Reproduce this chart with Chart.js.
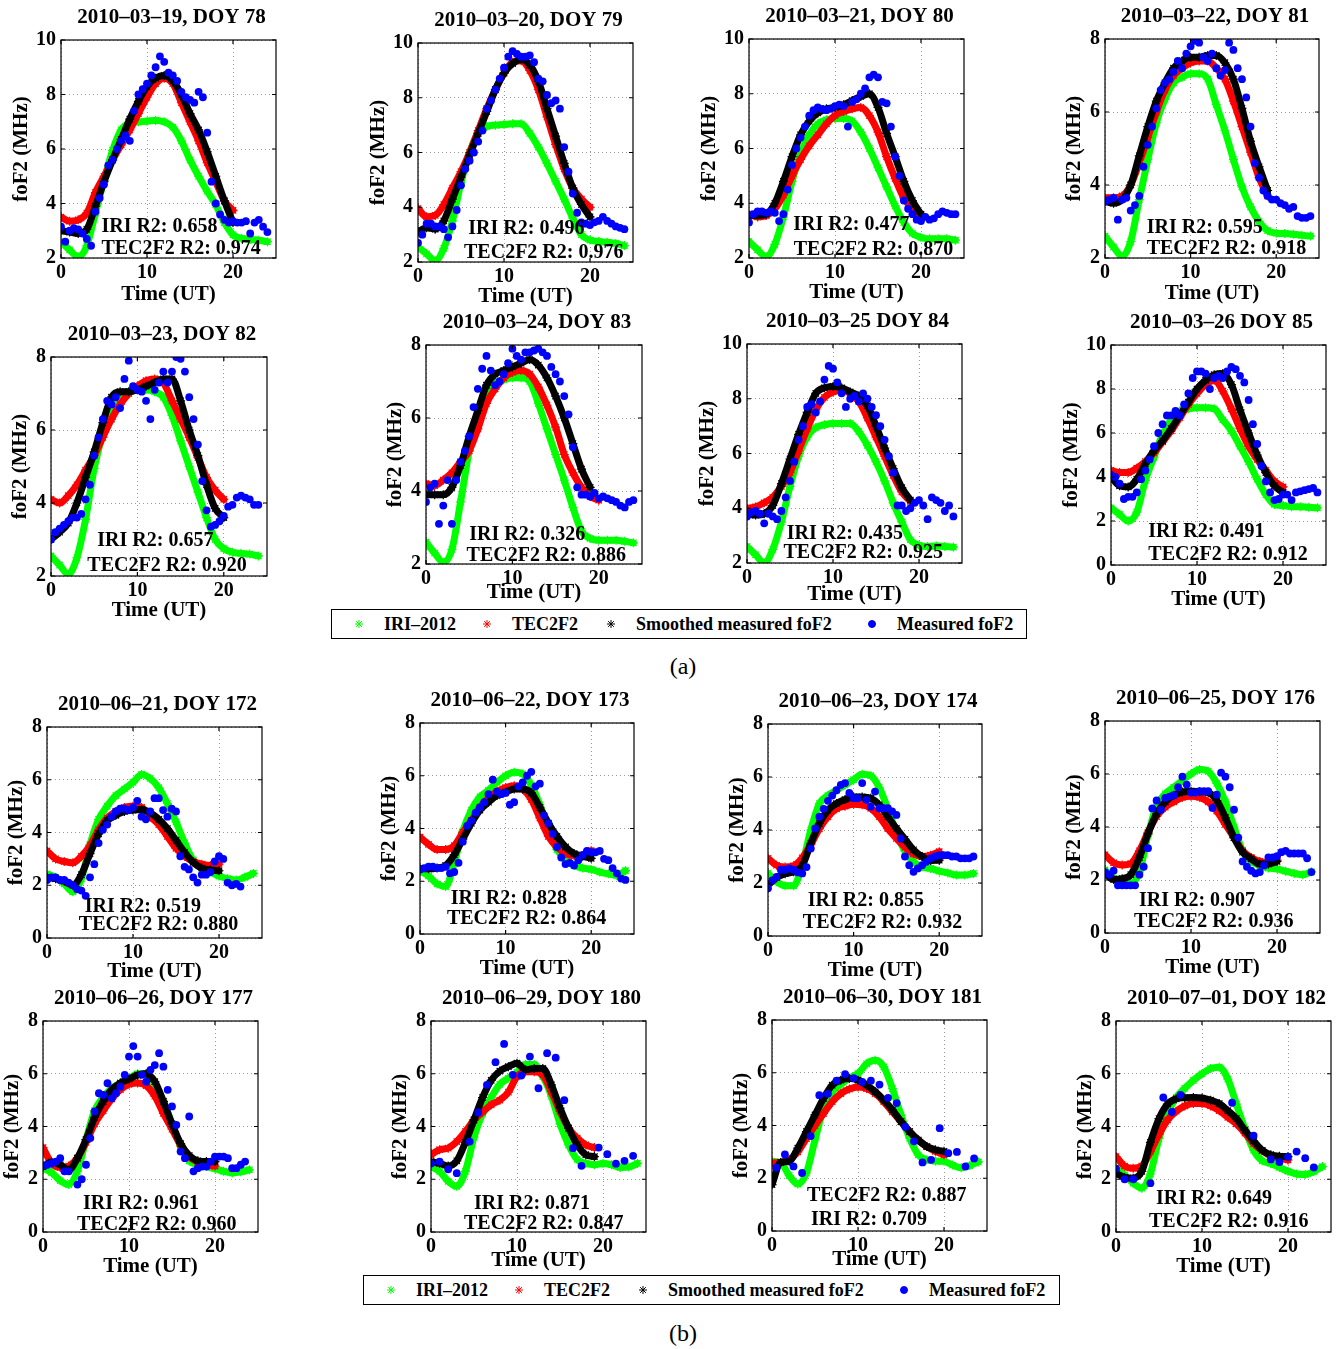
<!DOCTYPE html>
<html lang="en">
<head>
<meta charset="UTF-8">
<title>foF2: IRI-2012, TEC2F2 and measured</title>
<script src="https://cdn.jsdelivr.net/npm/chart.js"></script>
<style>
  html, body { margin: 0; padding: 0; background: #fff; overflow: hidden; }
  #page { position: relative; width: 1338px; height: 1349px; overflow: hidden;
          font-family: "Liberation Serif", "Times New Roman", serif; }
  #page canvas.panel { position: absolute; }
  .legend { position: absolute; height: 30px; border: 1px solid #000; box-sizing: border-box; background: #fff; }
  .legend .mk { position: absolute; top: 8px; }
  .legend .lbl { position: absolute; top: 50%; transform: translateY(-50%); font-weight: bold;
                 font-size: 18px; line-height: 1; white-space: nowrap; }
  .caption { position: absolute; font-size: 24px; transform: translate(-50%, -50%); }
</style>
</head>
<body>
<div id="page"></div>

<script>
// ---- axis grids ----
const HOURS = [0,1,2,3,4,5,6,7,8,9,10,11,12,13,14,15,16,17,18,19,20,21,22,23,24];
const HALF_HOURS = [0,0.5,1,1.5,2,2.5,3,3.5,4,4.5,5,5.5,6,6.5,7,7.5,8,8.5,9,9.5,10,10.5,11,11.5,12,
                    12.5,13,13.5,14,14.5,15,15.5,16,16.5,17,17.5,18,18.5,19,19.5,20,20.5,21,21.5,22,22.5,23,23.5,24];
const X_TICKS = [0, 10, 20];
const Y_TICKS_2_10 = [2, 4, 6, 8, 10];
const Y_TICKS_2_8 = [2, 4, 6, 8];
const Y_TICKS_0_10 = [0, 2, 4, 6, 8, 10];
const Y_TICKS_0_8 = [0, 2, 4, 6, 8];

const SERIES_LABELS = ['IRI–2012', 'TEC2F2', 'Smoothed measured foF2', 'Measured foF2'];
const SERIES_COLORS = ['#00ff00', '#ff0000', '#000000', '#0000ff'];
const SERIES_MARKERS = ['star', 'star', 'star', 'circle'];

// ---- March 2010 (foF2, MHz) ----
const IRI_078 = [2.6,2.3,2.05,2.45,3.65,4.85,5.95,6.7,6.95,7.0,7.02,7.05,7.0,6.8,6.3,5.6,5.0,4.45,3.95,3.3,2.85,2.72,2.68,2.65,2.6];
const TEC_078 = [3.5,3.35,3.4,3.65,4.4,5.0,5.6,6.15,6.7,7.3,7.9,8.4,8.6,8.4,7.7,7.0,6.3,5.5,4.8,4.1,3.75];
const SMOOTH_078 = [3.0,2.95,2.9,3.05,3.9,4.8,5.6,6.35,7.1,7.75,8.3,8.6,8.7,8.5,8.0,7.3,6.7,5.9,5.0,4.1,3.3];
const MEAS_078 = [3.15,2.6,3.0,3.1,3.05,2.9,2.7,2.45,3.7,4.2,4.7,5.4,5.6,6.0,6.3,6.5,6.3,7.4,8.0,8.2,8.4,8.7,9.0,9.4,9.2,
                  8.8,8.7,8.5,8.1,7.9,7.8,7.7,8.1,7.9,6.6,4.8,4.0,3.6,3.4,3.3,3.35,3.3,3.3,3.35,2.9,3.3,3.4,3.15,2.95];

const IRI_079 = [2.55,2.3,2.05,2.5,3.5,4.9,6.0,6.7,6.95,7.0,7.02,7.05,7.05,6.7,6.2,5.6,4.95,4.3,3.6,3.0,2.8,2.75,2.72,2.68,2.6];
const TEC_079 = [3.95,3.65,3.7,4.1,4.7,5.3,6.0,6.8,7.6,8.3,8.9,9.3,9.35,9.0,8.3,7.3,6.3,5.4,4.7,4.3,4.0];
const SMOOTH_079 = [3.1,3.25,3.2,3.5,4.3,5.1,5.9,6.7,7.5,8.3,8.9,9.25,9.4,9.2,8.6,7.6,6.6,5.6,4.7,4.1,3.65];
const MEAS_079 = [2.7,3.0,3.4,3.4,3.3,3.3,3.2,2.9,3.3,3.9,4.8,5.4,5.7,6.0,6.4,6.8,7.6,7.9,8.3,8.7,9.1,9.5,9.7,9.6,9.5,
                  9.5,9.55,9.3,8.7,8.6,8.1,7.8,7.9,7.6,6.2,5.3,4.5,3.8,3.45,3.4,3.35,3.45,3.5,3.65,3.5,3.4,3.3,3.25,3.2];

const IRI_080 = [2.6,2.3,2.05,2.5,3.5,4.8,5.8,6.5,6.9,7.05,7.1,7.1,7.0,6.6,6.0,5.3,4.6,3.9,3.3,2.9,2.75,2.7,2.7,2.7,2.65];
const TEC_080 = [3.6,3.5,3.55,3.8,4.3,5.0,5.6,6.1,6.5,6.9,7.2,7.35,7.45,7.5,7.2,6.6,5.7,4.9,4.2,3.8,3.55];
const SMOOTH_080 = [3.55,3.55,3.6,4.0,4.8,5.7,6.5,7.0,7.3,7.45,7.5,7.6,7.75,7.9,8.0,7.5,6.55,5.7,4.8,4.1,3.6];
const MEAS_080 = [3.3,3.6,3.7,3.7,3.65,3.7,3.65,3.35,3.6,4.5,5.4,6.0,6.4,6.8,7.2,7.4,7.5,7.45,7.4,7.45,7.55,7.6,7.55,6.8,7.7,
                  7.8,8.0,8.2,8.6,8.7,8.6,7.7,7.65,6.8,5.7,5.0,4.1,3.8,3.6,3.4,3.35,3.5,3.4,3.45,3.6,3.7,3.65,3.6,3.6];

const IRI_081 = [2.6,2.3,2.05,2.45,3.6,4.7,5.7,6.35,6.8,6.95,7.05,7.05,6.9,6.2,5.5,4.7,3.95,3.4,3.0,2.75,2.68,2.67,2.65,2.62,2.6];
const TEC_081 = [3.65,3.65,3.7,4.0,4.6,5.3,6.0,6.6,7.0,7.2,7.35,7.4,7.4,7.2,6.9,6.3,5.6,4.9,4.2,3.7];
const SMOOTH_081 = [3.55,3.5,3.6,4.0,4.8,5.6,6.3,6.8,7.2,7.4,7.5,7.5,7.55,7.55,7.35,6.9,6.1,5.2,4.5,3.85];
const MEAS_081 = [3.55,3.6,3.65,3.05,3.6,3.65,3.3,3.45,3.7,4.5,5.1,5.6,6.1,6.6,6.8,6.9,7.1,7.4,7.2,7.6,7.8,7.95,7.9,7.5,7.4,
                  7.6,7.2,7.0,7.15,7.9,7.7,7.2,6.9,6.4,5.6,4.6,4.2,3.85,3.7,3.6,3.6,3.5,3.45,3.35,3.4,3.15,3.1,3.1,3.15];

const IRI_082 = [2.55,2.3,2.05,2.5,3.55,4.95,5.9,6.65,7.0,7.05,7.1,7.1,7.05,6.9,6.4,5.7,5.0,4.3,3.6,3.0,2.75,2.65,2.62,2.6,2.55];
const TEC_082 = [4.1,4.0,4.2,4.5,4.9,5.3,5.8,6.3,6.7,7.0,7.2,7.35,7.4,7.3,6.8,6.3,5.8,5.25,4.7,4.35,4.1];
const SMOOTH_082 = [3.0,3.2,3.45,4.0,4.7,5.4,6.2,6.9,7.05,7.05,7.1,7.2,7.3,7.4,7.4,6.8,6.0,5.3,4.5,3.85,3.6];
const MEAS_082 = [3.0,3.2,3.3,3.4,3.5,3.6,3.6,3.7,4.1,4.5,5.3,5.8,6.3,6.8,6.7,6.9,6.6,7.4,7.9,7.2,7.1,7.05,6.8,6.3,7.1,
                  7.3,7.6,7.3,7.6,8.0,7.95,7.6,6.9,6.3,5.6,4.6,3.8,3.35,3.4,3.5,3.65,3.9,3.95,4.15,4.2,4.15,4.1,3.95,3.95];

const IRI_083 = [2.6,2.3,2.05,2.4,3.7,5.1,6.1,6.7,6.95,7.05,7.1,7.1,7.0,6.4,5.7,5.0,4.3,3.55,2.9,2.7,2.65,2.65,2.65,2.62,2.58];
const TEC_083 = [4.2,4.15,4.3,4.5,4.8,5.1,5.7,6.4,6.8,7.1,7.25,7.3,7.2,6.85,6.35,5.75,5.0,4.5,4.1,3.85,3.75];
const SMOOTH_083 = [3.9,3.9,3.9,4.1,4.7,5.5,6.2,6.9,7.2,7.3,7.4,7.5,7.6,7.45,7.1,6.6,6.0,5.3,4.6,4.1];
const MEAS_083 = [3.7,4.1,4.2,3.1,3.6,4.3,3.1,4.3,4.8,5.1,5.5,6.3,6.8,7.35,7.7,7.3,6.9,7.0,7.2,7.5,7.9,7.7,7.6,7.8,7.8,
                  7.85,7.9,7.8,7.7,7.4,7.2,7.0,6.6,6.1,5.2,4.1,3.9,3.9,3.85,3.95,3.8,3.85,3.8,3.75,3.7,3.6,3.55,3.7,3.75];

const IRI_084 = [2.6,2.3,2.0,2.5,3.5,4.8,5.9,6.6,6.95,7.05,7.1,7.1,7.1,6.8,6.3,5.7,5.0,4.2,3.5,2.85,2.65,2.6,2.62,2.6,2.58];
const TEC_084 = [4.0,4.05,4.2,4.4,4.8,5.3,6.1,6.9,7.6,8.05,8.25,8.3,8.2,7.9,7.3,6.6,5.9,5.2,4.6,4.25];
const SMOOTH_084 = [3.8,3.75,3.8,4.1,4.9,5.8,6.7,7.5,8.2,8.4,8.45,8.4,8.25,8.1,7.75,7.0,6.2,5.45,4.75,4.3];
const MEAS_084 = [3.7,3.85,3.9,3.8,3.45,3.8,3.7,3.6,3.9,4.4,5.0,5.7,6.5,7.0,7.7,7.8,7.5,7.9,8.7,9.2,9.1,8.6,8.2,7.7,8.0,
                  8.1,7.9,8.2,8.0,7.7,7.4,7.0,6.5,5.9,5.3,4.1,4.1,3.9,4.0,4.2,4.3,4.1,3.6,4.4,4.3,4.2,3.9,4.1,3.7];

const IRI_085 = [2.6,2.3,2.0,2.4,3.85,4.9,5.95,6.6,7.0,7.1,7.15,7.15,7.1,6.6,6.1,5.4,4.7,3.9,3.2,2.75,2.7,2.65,2.65,2.62,2.6];
const TEC_085 = [4.3,4.2,4.2,4.4,4.7,5.1,5.6,6.1,6.7,7.3,7.8,8.2,8.4,7.9,7.1,6.2,5.4,4.8,4.3,3.8,3.55];
const SMOOTH_085 = [4.0,3.6,3.55,3.9,4.6,5.2,5.65,6.2,6.8,7.4,8.0,8.4,8.65,8.7,8.2,7.05,6.0,5.0,4.2,3.6,3.3];
const MEAS_085 = [4.1,4.0,3.7,3.0,3.1,3.1,3.3,3.9,4.3,4.8,5.4,6.0,6.4,6.8,6.8,7.0,6.8,7.3,7.8,8.5,8.8,8.8,8.7,8.0,8.5,
                  8.6,8.5,8.8,9.0,8.9,8.6,8.3,7.5,6.4,5.5,4.5,3.8,3.3,2.95,3.0,3.2,3.2,2.95,3.3,3.35,3.4,3.45,3.5,3.3];

// ---- June / July 2010 ----
const IRI_172 = [2.43,2.3,2.05,1.75,2.25,3.55,4.5,5.0,5.4,5.65,5.9,6.2,6.05,5.7,5.1,4.4,3.6,2.95,2.65,2.5,2.35,2.25,2.2,2.3,2.45];
const TEC_172 = [3.3,3.0,2.9,2.85,3.1,3.5,4.1,4.55,4.8,4.95,5.0,4.95,4.6,4.3,3.85,3.4,3.1,2.9,2.8,2.75,2.8];
const SMOOTH_172 = [2.3,2.25,2.15,2.0,2.4,3.2,3.95,4.45,4.65,4.8,4.85,4.87,4.75,4.5,4.15,3.7,3.25,2.87,2.65,2.58,2.55];
const MEAS_172 = [2.2,2.3,2.3,2.2,2.2,2.1,2.0,1.85,1.8,1.6,2.3,2.8,3.6,4.1,4.3,4.6,4.8,4.9,4.9,4.85,4.95,5.2,4.6,4.5,4.8,
                  5.3,5.3,4.85,4.6,4.9,4.8,3.1,2.7,2.6,2.3,2.1,2.4,2.4,2.5,2.9,3.1,3.0,2.1,2.0,2.05,1.95,null,null,null];

const IRI_173 = [2.4,2.2,1.9,1.8,2.7,3.9,4.7,5.2,5.45,5.75,6.0,6.13,6.07,5.65,4.9,4.0,3.2,2.85,2.6,2.5,2.45,2.35,2.28,2.22,2.4];
const TEC_173 = [3.67,3.4,3.2,3.2,3.35,3.85,4.3,4.8,5.15,5.4,5.55,5.62,5.5,5.1,4.4,3.7,3.3,3.05,2.98,2.98,3.16];
const SMOOTH_173 = [2.47,2.47,2.5,2.6,3.0,3.6,4.2,4.7,5.0,5.25,5.38,5.5,5.5,5.35,4.8,4.2,3.7,3.3,3.05,2.95,2.87];
const MEAS_173 = [2.45,2.5,2.55,2.55,2.5,2.5,2.55,2.3,2.35,2.7,3.5,4.1,4.3,4.6,4.8,5.0,5.3,5.85,5.4,5.3,5.35,4.9,5.0,5.6,5.75,
                  6.0,6.15,5.6,5.7,4.5,4.2,3.8,3.3,2.9,2.65,2.7,2.6,2.8,3.0,3.15,3.1,3.1,3.15,2.85,2.8,2.5,2.3,2.1,2.05];

const IRI_174 = [2.36,2.05,1.9,1.9,2.7,4.0,5.0,5.3,5.5,5.7,5.9,6.1,6.05,5.6,4.8,3.9,3.2,2.8,2.6,2.55,2.45,2.38,2.3,2.3,2.36];
const TEC_174 = [2.93,2.67,2.6,2.65,2.95,3.45,4.05,4.5,4.8,4.9,4.97,4.95,4.82,4.5,4.05,3.68,3.35,3.1,3.0,3.05,3.18];
const SMOOTH_174 = [1.92,2.2,2.35,2.42,2.65,3.5,4.25,4.75,5.0,5.15,5.25,5.25,5.2,4.95,4.5,4.06,3.65,3.25,3.0,2.85,2.86];
const MEAS_174 = [1.8,2.1,2.23,2.5,2.5,2.55,2.5,2.4,2.36,2.6,3.3,4.06,4.5,4.8,5.1,5.3,5.5,5.7,5.77,5.4,5.2,5.2,5.77,5.14,4.88,
                  5.45,4.82,4.82,4.82,4.7,4.57,3.68,3.0,2.67,2.42,2.55,2.67,2.8,2.93,3.0,3.05,3.05,3.05,3.0,3.0,2.93,2.93,2.93,3.0];

const IRI_176 = [2.38,2.06,1.9,1.87,2.3,3.7,4.8,5.25,5.5,5.75,6.0,6.17,6.1,5.65,4.95,4.0,3.1,2.7,2.55,2.45,2.42,2.33,2.25,2.2,2.31];
const TEC_176 = [2.95,2.65,2.57,2.62,3.1,3.8,4.4,4.75,4.95,5.12,5.16,5.12,4.95,4.6,4.1,3.6,3.1,2.85,2.7,2.65,2.75];
const SMOOTH_176 = [2.25,2.02,2.05,2.2,2.85,3.75,4.5,4.95,5.2,5.32,5.35,5.33,5.3,5.0,4.35,3.6,3.05,2.8,2.6,2.6,2.7];
const MEAS_176 = [2.3,2.2,2.35,1.8,1.8,1.8,1.8,1.8,2.2,2.5,3.2,4.7,5.0,4.65,5.1,5.15,5.2,5.5,5.9,5.6,5.3,5.3,5.35,5.35,5.35,
                  4.72,5.22,6.05,5.9,5.5,4.65,3.6,2.7,2.5,2.35,2.25,2.3,2.55,2.85,2.85,2.9,3.05,3.1,3.0,3.0,3.0,3.0,2.82,2.3];

const IRI_177 = [2.42,2.25,1.95,1.8,2.3,3.5,4.6,5.1,5.45,5.65,5.8,6.0,6.0,5.6,4.95,4.1,3.25,2.7,2.55,2.48,2.4,2.3,2.24,2.28,2.36];
const TEC_177 = [3.2,2.6,2.45,2.5,2.8,3.4,4.1,4.6,5.05,5.4,5.6,5.65,5.55,5.15,4.5,3.9,3.3,2.85,2.65,2.55,2.5];
const SMOOTH_177 = [2.48,2.65,2.55,2.35,2.8,3.5,4.35,4.95,5.4,5.65,5.8,5.95,6.0,5.7,4.95,4.1,3.35,2.9,2.7,2.67,2.67];
const MEAS_177 = [2.5,2.55,2.6,2.67,2.8,2.3,2.3,null,1.8,2.0,2.55,3.56,4.57,5.26,5.2,5.64,5.07,5.26,5.51,5.96,6.65,7.05,6.65,5.96,5.7,
                  6.15,6.33,6.78,6.27,5.39,4.76,4.06,3.05,2.8,4.38,2.3,2.42,2.48,2.48,2.67,2.86,2.86,2.86,2.8,2.42,2.42,2.55,2.67,null];

const IRI_180 = [2.48,2.3,1.92,1.73,2.3,3.6,4.5,5.1,5.6,5.83,6.05,6.35,6.35,5.9,5.15,4.1,3.3,2.75,2.6,2.55,2.6,2.55,2.45,2.46,2.6];
const TEC_180 = [2.93,3.12,3.18,3.43,3.81,4.25,4.55,4.82,5.0,5.3,5.9,6.08,6.08,5.96,5.32,4.57,3.94,3.56,3.3,3.2];
const SMOOTH_180 = [2.67,2.6,2.5,2.7,3.4,4.25,5.1,5.75,6.1,6.27,6.4,6.15,6.2,6.2,5.58,4.7,3.94,3.3,2.93,2.86];
const MEAS_180 = [2.6,null,2.67,null,2.38,null,2.23,null,null,3.43,null,4.53,null,5.58,null,6.44,null,7.13,null,5.96,null,5.93,null,6.65,null,
                  5.45,null,6.78,null,6.61,null,5.0,null,3.18,null,2.51,null,null,null,3.2,null,2.95,null,2.59,null,2.7,null,2.89,null];

const IRI_181 = [2.64,2.6,2.1,1.78,2.2,3.45,4.65,5.28,5.55,5.8,5.97,6.34,6.47,6.22,5.4,4.4,3.52,2.89,2.7,2.65,2.64,2.5,2.4,2.48,2.62];
const TEC_181 = [2.58,2.6,2.7,3.0,3.5,4.0,4.46,4.9,5.21,5.38,5.46,5.4,5.21,4.9,4.52,4.15,3.77,3.45,3.2,3.02,2.89];
const SMOOTH_181 = [1.76,2.6,2.64,3.14,3.77,4.4,5.03,5.53,5.72,5.78,5.72,5.53,5.28,4.96,4.59,4.15,3.77,3.45,3.2,3.08,3.02];
const MEAS_181 = [null,2.4,null,2.9,null,2.45,null,2.2,null,3.6,null,5.15,null,5.2,null,5.7,null,5.95,null,5.8,null,5.65,null,5.7,null,
                  5.55,null,5.05,null,4.85,null,3.95,null,3.4,null,2.6,null,2.7,null,3.9,null,2.95,null,3.0,null,2.45,null,2.75,null];

const IRI_182 = [2.42,2.17,1.85,1.66,2.2,3.55,4.5,5.1,5.45,5.75,6.0,6.2,6.25,5.8,4.85,3.9,3.1,2.7,2.6,2.45,2.3,2.2,2.18,2.29,2.48];
const TEC_182 = [2.86,2.5,2.42,2.5,3.05,3.7,4.25,4.58,4.78,4.87,4.87,4.78,4.6,4.35,4.1,3.75,3.35,3.08,2.88,2.8,2.73];
const SMOOTH_182 = [2.23,2.07,2.04,2.3,3.4,4.3,4.85,5.05,5.09,5.1,5.08,5.0,4.87,4.6,4.3,3.85,3.45,3.1,2.93,2.87,2.86];
const MEAS_182 = [2.4,null,2.0,null,2.0,null,null,null,1.85,null,null,5.1,null,4.55,null,5.2,null,null,null,null,null,null,null,null,null,
                  null,null,4.9,null,null,null,null,3.65,null,null,null,2.75,null,2.65,null,2.85,null,3.05,null,2.8,null,2.45,null,null];

// R2 scores printed in each panel, and where (time, foF2) the two lines start
const IRI_R2 = ['0.658','0.496','0.477','0.595','0.657','0.326','0.435','0.491',
                '0.519','0.828','0.855','0.907','0.961','0.871','0.709','0.649'];
const TEC_R2 = ['0.974','0.976','0.870','0.918','0.920','0.886','0.925','0.912',
                '0.880','0.864','0.932','0.936','0.960','0.847','0.887','0.916'];
const IRI_NOTE_AT = [[4.7,3.15],[5.85,3.2],[5.15,3.2],[4.87,2.84],[5.36,2.96],[5.0,2.81],[4.63,3.08],[4.34,1.51],
                     [4.4,1.19],[3.6,1.33],[4.65,1.33],[3.95,1.21],[4.65,1.06],[5.0,1.06],[4.53,0.42],[4.65,1.25]];
const TEC_NOTE_AT = [[4.7,2.33],[5.35,2.35],[5.2,2.29],[4.87,2.25],[4.2,2.28],[4.7,2.22],[4.24,2.38],[4.34,0.45],
                     [3.7,0.49],[3.14,0.57],[4.07,0.49],[3.37,0.42],[3.95,0.27],[3.84,0.3],[4.07,1.33],[3.84,0.38]];

// ---- page layout: plot box [left, top, width, height] in page pixels ----
const PANELS = [
  { title: '2010–03–19, DOY 78',  box: [61, 40, 215, 218],    yTicks: Y_TICKS_2_10, xGap: 37, iri: IRI_078, tec: TEC_078, smooth: SMOOTH_078, meas: MEAS_078 },
  { title: '2010–03–20, DOY 79',  box: [418, 43, 215, 219],   yTicks: Y_TICKS_2_10, xGap: 35, iri: IRI_079, tec: TEC_079, smooth: SMOOTH_079, meas: MEAS_079 },
  { title: '2010–03–21, DOY 80',  box: [749, 39, 215, 219],   yTicks: Y_TICKS_2_10, xGap: 35, iri: IRI_080, tec: TEC_080, smooth: SMOOTH_080, meas: MEAS_080 },
  { title: '2010–03–22, DOY 81',  box: [1105, 39, 214, 219],  yTicks: Y_TICKS_2_8,  xGap: 36, iri: IRI_081, tec: TEC_081, smooth: SMOOTH_081, meas: MEAS_081 },
  { title: '2010–03–23, DOY 82',  box: [51, 357, 216, 219],   yTicks: Y_TICKS_2_8,  xGap: 35, iri: IRI_082, tec: TEC_082, smooth: SMOOTH_082, meas: MEAS_082 },
  { title: '2010–03–24, DOY 83',  box: [426, 345, 216, 219],  yTicks: Y_TICKS_2_8,  xGap: 29, iri: IRI_083, tec: TEC_083, smooth: SMOOTH_083, meas: MEAS_083 },
  { title: '2010–03–25 DOY 84',   box: [747, 344, 215, 219],  yTicks: Y_TICKS_2_10, xGap: 32, iri: IRI_084, tec: TEC_084, smooth: SMOOTH_084, meas: MEAS_084 },
  { title: '2010–03–26 DOY 85',   box: [1111, 345, 215, 220], yTicks: Y_TICKS_0_10, xGap: 35, iri: IRI_085, tec: TEC_085, smooth: SMOOTH_085, meas: MEAS_085 },
  { title: '2010–06–21, DOY 172', box: [47, 727, 215, 211],   yTicks: Y_TICKS_0_8,  xGap: 34, iri: IRI_172, tec: TEC_172, smooth: SMOOTH_172, meas: MEAS_172 },
  { title: '2010–06–22, DOY 173', box: [420, 723, 214, 211],  yTicks: Y_TICKS_0_8,  xGap: 35, iri: IRI_173, tec: TEC_173, smooth: SMOOTH_173, meas: MEAS_173 },
  { title: '2010–06–23, DOY 174', box: [768, 724, 214, 212],  yTicks: Y_TICKS_0_8,  xGap: 35, iri: IRI_174, tec: TEC_174, smooth: SMOOTH_174, meas: MEAS_174 },
  { title: '2010–06–25, DOY 176', box: [1105, 721, 215, 212], yTicks: Y_TICKS_0_8,  xGap: 35, iri: IRI_176, tec: TEC_176, smooth: SMOOTH_176, meas: MEAS_176 },
  { title: '2010–06–26, DOY 177', box: [43, 1021, 215, 211],  yTicks: Y_TICKS_0_8,  xGap: 35, iri: IRI_177, tec: TEC_177, smooth: SMOOTH_177, meas: MEAS_177 },
  { title: '2010–06–29, DOY 180', box: [431, 1021, 215, 211], yTicks: Y_TICKS_0_8,  xGap: 29, iri: IRI_180, tec: TEC_180, smooth: SMOOTH_180, meas: MEAS_180 },
  { title: '2010–06–30, DOY 181', box: [772, 1020, 215, 211], yTicks: Y_TICKS_0_8,  xGap: 29, iri: IRI_181, tec: TEC_181, smooth: SMOOTH_181, meas: MEAS_181, tecFirst: true },
  { title: '2010–07–01, DOY 182', box: [1116, 1021, 215, 211], yTicks: Y_TICKS_0_8, xGap: 35, iri: IRI_182, tec: TEC_182, smooth: SMOOTH_182, meas: MEAS_182 }
];

const MARGIN_L = 60, MARGIN_T = 40, MARGIN_R = 8, MARGIN_B = 55;
const SERIF = '"Liberation Serif", "Times New Roman", serif';
const INK = '#000';
const boldFont = size => ({ family: SERIF, size, weight: 'bold' });

Chart.defaults.font.family = SERIF;

function pairs(xs, ys) {
  const out = [];
  ys.forEach((v, i) => { if (v !== null) out.push({ x: xs[i], y: v }); });
  return out;
}

// full box with inward ticks on all four sides, like a MATLAB axes
const framePlugin = {
  id: 'frame',
  afterDraw(chart) {
    const { ctx, chartArea: a } = chart;
    const x = chart.scales.x, y = chart.scales.y;
    const len = 4;
    ctx.save();
    ctx.setLineDash([]);
    ctx.strokeStyle = INK;
    ctx.lineWidth = 1.2;
    ctx.strokeRect(a.left, a.top, a.right - a.left, a.bottom - a.top);
    ctx.beginPath();
    x.ticks.forEach(t => {
      const px = x.getPixelForValue(t.value);
      ctx.moveTo(px, a.bottom); ctx.lineTo(px, a.bottom - len);
      ctx.moveTo(px, a.top); ctx.lineTo(px, a.top + len);
    });
    y.ticks.forEach(t => {
      const py = y.getPixelForValue(t.value);
      ctx.moveTo(a.left, py); ctx.lineTo(a.left + len, py);
      ctx.moveTo(a.right, py); ctx.lineTo(a.right - len, py);
    });
    ctx.stroke();
    ctx.restore();
  }
};

// panel title centred over the plot box
function titlePlugin(text) {
  return {
    id: 'panelTitle',
    afterDraw(chart) {
      const { ctx, chartArea: a } = chart;
      ctx.save();
      ctx.font = `bold 21px ${SERIF}`;
      ctx.fillStyle = INK;
      ctx.textAlign = 'center';
      ctx.textBaseline = 'middle';
      ctx.fillText(text, (a.left + a.right) / 2 + 3, a.top - 22);
      ctx.restore();
    }
  };
}

// R2 text lines anchored in data coordinates
function notesPlugin(items) {
  return {
    id: 'notes',
    afterDatasetsDraw(chart) {
      const { ctx } = chart;
      const x = chart.scales.x, y = chart.scales.y;
      ctx.save();
      ctx.font = `bold 20px ${SERIF}`;
      ctx.fillStyle = INK;
      ctx.textAlign = 'left';
      ctx.textBaseline = 'middle';
      items.forEach(([vx, vy, text]) => ctx.fillText(text, x.getPixelForValue(vx), y.getPixelForValue(vy)));
      ctx.restore();
    }
  };
}

function bandSet(label, vals, color, order) {
  return {
    label, data: pairs(HOURS, vals), order,
    borderColor: color, backgroundColor: color, borderWidth: 7,
    borderCapStyle: 'round', borderJoinStyle: 'round',
    cubicInterpolationMode: 'monotone', fill: false,
    pointStyle: 'star', pointRadius: 4.5, pointBorderWidth: 1.2,
    pointBorderColor: color, pointBackgroundColor: color
  };
}

function axisCommon(ticks, fitFn) {
  return {
    type: 'linear',
    min: ticks[0], max: ticks[ticks.length - 1],
    afterBuildTicks: s => { s.ticks = ticks.map(v => ({ value: v })); },
    afterFit: fitFn,
    grid: { color: '#9a9a9a', lineWidth: 1, drawTicks: false },
    border: { display: false, dash: [1, 3] }
  };
}

const page = document.getElementById('page');

PANELS.forEach((p, i) => {
  const [l, t, w, h] = p.box;
  const canvas = document.createElement('canvas');
  canvas.className = 'panel';
  canvas.width = w + MARGIN_L + MARGIN_R;
  canvas.height = h + MARGIN_T + MARGIN_B;
  canvas.style.left = (l - MARGIN_L) + 'px';
  canvas.style.top = (t - MARGIN_T) + 'px';
  page.appendChild(canvas);

  const yMax = p.yTicks[p.yTicks.length - 1];
  const yGap = yMax >= 10 ? 39 : 30;   // two-digit tick labels push the label out

  const iriNote = [IRI_NOTE_AT[i][0], IRI_NOTE_AT[i][1], 'IRI R2: ' + IRI_R2[i]];
  const tecNote = [TEC_NOTE_AT[i][0], TEC_NOTE_AT[i][1], 'TEC2F2 R2: ' + TEC_R2[i]];

  const xAxis = axisCommon([0, 25], s => { s.height = MARGIN_B; });
  xAxis.afterBuildTicks = s => { s.ticks = X_TICKS.map(v => ({ value: v })); };
  xAxis.ticks = { color: INK, font: boldFont(20), padding: 2.5, autoSkip: false, maxRotation: 0 };
  xAxis.title = { display: true, text: 'Time (UT)', color: INK, font: boldFont(21),
                  padding: { top: 0, bottom: 42.4 - p.xGap } };

  const yAxis = axisCommon(p.yTicks, s => { s.width = MARGIN_L; });
  yAxis.ticks = { color: INK, font: boldFont(20), padding: 5, autoSkip: false };
  yAxis.title = { display: true, text: 'foF2 (MHz)', color: INK, font: boldFont(21),
                  padding: { top: MARGIN_L - yGap - 12.6, bottom: 0 } };

  new Chart(canvas, {
    type: 'line',
    data: {
      datasets: [
        bandSet(SERIES_LABELS[0], p.iri, SERIES_COLORS[0], 3),
        bandSet(SERIES_LABELS[1], p.tec, SERIES_COLORS[1], 2),
        bandSet(SERIES_LABELS[2], p.smooth, SERIES_COLORS[2], 1),
        {
          label: SERIES_LABELS[3], data: pairs(HALF_HOURS, p.meas), order: 0,
          showLine: false, pointStyle: 'circle', pointRadius: 3.9, pointBorderWidth: 0,
          pointBackgroundColor: SERIES_COLORS[3], pointBorderColor: SERIES_COLORS[3],
          borderColor: SERIES_COLORS[3], backgroundColor: SERIES_COLORS[3]
        }
      ]
    },
    options: {
      responsive: false,
      animation: false,
      events: [],
      layout: { padding: { left: 0, top: MARGIN_T, right: MARGIN_R, bottom: 0 } },
      plugins: { legend: { display: false }, tooltip: { enabled: false }, title: { display: false } },
      scales: { x: xAxis, y: yAxis }
    },
    plugins: [framePlugin, titlePlugin(p.title), notesPlugin(p.tecFirst ? [tecNote, iriNote] : [iriNote, tecNote])]
  });
});

// ---- shared legends and sub-figure captions ----
const LEGEND_MARK_X = [27, 155, 279, 540];

function addLegend(left, top, width) {
  const box = document.createElement('div');
  box.className = 'legend';
  box.style.left = left + 'px';
  box.style.top = top + 'px';
  box.style.width = width + 'px';
  SERIES_LABELS.forEach((label, i) => {
    const mk = document.createElement('canvas');
    mk.className = 'mk';
    mk.width = 12; mk.height = 12;
    mk.style.left = (LEGEND_MARK_X[i] - 6) + 'px';
    const c = mk.getContext('2d');
    c.fillStyle = SERIES_COLORS[i];
    c.strokeStyle = SERIES_COLORS[i];
    c.lineWidth = 1;
    Chart.helpers.drawPoint(c, { pointStyle: SERIES_MARKERS[i], radius: i === 3 ? 3.5 : 4, borderWidth: 1, rotation: 0 }, 6, 6);
    const txt = document.createElement('span');
    txt.className = 'lbl';
    txt.textContent = label;
    txt.style.left = (LEGEND_MARK_X[i] + 25) + 'px';
    box.append(mk, txt);
  });
  page.appendChild(box);
}

function addCaption(text, cx, cy) {
  const el = document.createElement('div');
  el.className = 'caption';
  el.textContent = text;
  el.style.left = cx + 'px';
  el.style.top = cy + 'px';
  page.appendChild(el);
}

addLegend(331, 609, 696);
addLegend(363, 1275, 697);
addCaption('(a)', 683, 666);
addCaption('(b)', 683, 1333);
</script>
</body>
</html>
